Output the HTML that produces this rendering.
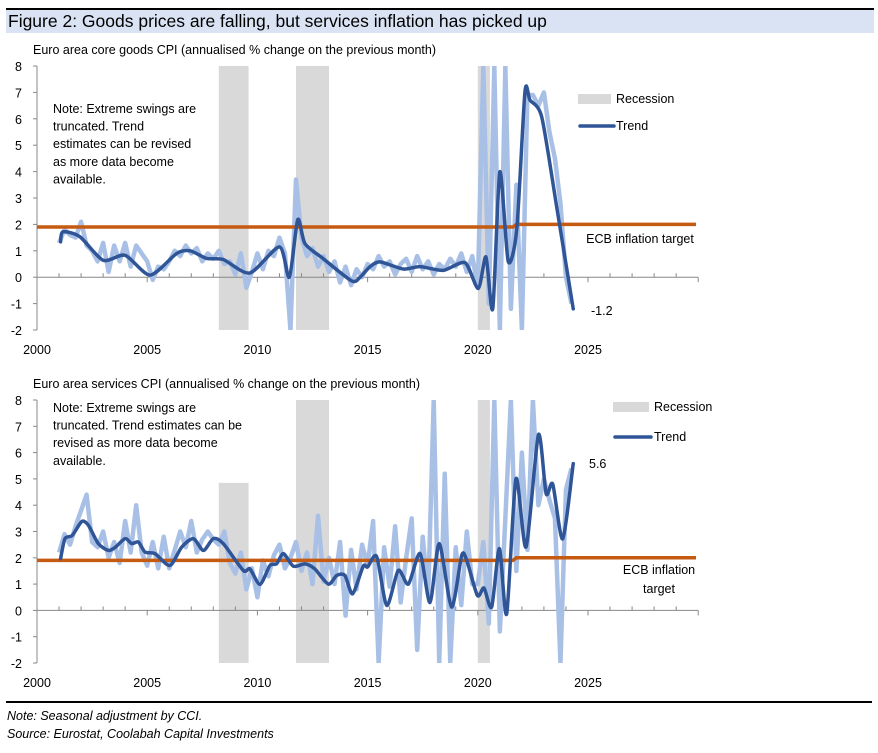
<!DOCTYPE html>
<html><head><meta charset="utf-8"><style>
body{margin:0;background:#fff;width:878px;height:748px;overflow:hidden;font-family:"Liberation Sans",sans-serif}
svg text{font-family:"Liberation Sans",sans-serif;fill:#000}
</style></head><body>
<svg id="svg" width="878" height="748" xmlns="http://www.w3.org/2000/svg">
<rect x="6" y="8" width="868" height="2" fill="#000"/>
<rect x="6" y="10" width="868" height="23" fill="#dae3f3"/>
<text x="8" y="27" font-size="17.5">Figure 2: Goods prices are falling, but services inflation has picked up</text>
<text x="33" y="54" font-size="12.5">Euro area core goods CPI (annualised % change on the previous month)</text>
<text x="33" y="388" font-size="12.5">Euro area services CPI (annualised % change on the previous month)</text>
<g id="c1"></g>
<g id="c2"></g>
<rect x="6" y="701" width="866" height="2" fill="#000"/>
<text x="7" y="720" font-size="12.5" font-style="italic">Note: Seasonal adjustment by CCI.</text>
<text x="7" y="738" font-size="12.5" font-style="italic">Source: Eurostat, Coolabah Capital Investments</text>
</svg>
<script>
const xTicks=[2000,2005,2010,2015,2020,2025];
const yTicks=[8,7,6,5,4,3,2,1,0,-1,-2];
const recStart=[2008.25,2011.75,2020.0];
const recEnd=[2009.6,2013.25,2020.55];
const rawStart=2001.0, rawStep=0.25;
const goodsRaw=[1.3,1.8,1.6,1.5, 2.1,1.2,1.0,0.6, 1.3,0.2,1.2,0.6, 1.3,0.4,1.2,0.9, 0.6,-0.1,0.4,0.3, 0.6,1.0,0.8,1.2, 0.9,1.1,0.6,0.9, 0.7,1.0,0.5,0.6, 0.1,0.9,-0.4,0.2, 0.9,0.3,1.0,0.8, 1.5,0.9,-2.0,3.7, 1.5,0.8,1.1,0.4, 0.8,0.2,0.6,-0.2, 0.4,-0.3,0.3,0.0, 0.5,0.3,0.8,0.4, 0.6,0.1,0.5,0.7, 0.2,0.8,0.3,0.6, 0.1,0.5,0.3,0.7, 0.4,0.9,0.2,0.8, -0.4,8.0,-1.0,8.0, -2.0,8.0,-1.2,3.5, -2.0,6.9,6.9,6.5, 7.0,5.5,4.5,2.8, 0.0,-1.0];
const goodsTrendX=[2001.07,2001.18,2001.95,2003.0,2004.0,2005.13,2006.34,2006.95,2007.7,2008.45,2009.66,2011.0,2011.45,2011.83,2012.16,2012.99,2014.28,2014.66,2015.1,2015.56,2016.62,2017.38,2018.44,2019.42,2020.02,2020.37,2020.68,2021.0,2021.38,2021.77,2022.14,2022.37,2022.9,2023.58,2024.33];
const goodsTrendY=[1.34,1.72,1.53,0.64,0.83,0.08,0.9,1.0,0.71,0.67,0.16,1.15,0.0,2.18,1.27,0.7,-0.14,0.0,0.39,0.58,0.31,0.4,0.26,0.55,-0.43,0.77,-1.19,3.99,0.6,1.84,7.02,6.7,6.07,2.66,-1.2];
const servRaw=[2.2,2.9,2.5,3.2, 3.8,4.4,2.6,2.4, 3.0,2.0,2.6,1.8, 3.4,2.2,4.0,2.2, 1.7,2.6,1.6,2.8, 1.6,2.3,3.0,2.4, 3.4,2.2,2.7,3.0, 2.7,2.5,3.0,1.8, 1.4,2.2,0.8,1.6, 0.5,1.9,1.3,2.1, 2.5,1.6,2.0,2.6, 1.5,2.2,1.0,3.6, 1.1,2.0,1.0,2.6, -0.2,2.3,0.8,2.5, 1.7,3.4,-2.0,2.4, 0.9,3.2,0.3,2.0, 3.5,-1.5,2.8,0.6, 8.0,-2.0,5.2,-2.0, 2.4,0.2,3.0,1.0, 1.0,2.6,-0.5,8.0, -0.8,3.5,8.0,1.5, 6.0,2.3,8.0,4.0, 5.0,4.2,3.5,-2.0, 4.6,5.4];
const servTrendX=[2001.07,2001.27,2001.6,2002.03,2002.33,2002.78,2003.24,2003.55,2004.0,2004.3,2004.6,2004.9,2005.35,2006.03,2006.56,2007.09,2007.55,2008.0,2008.45,2009.36,2009.66,2010.12,2010.57,2010.87,2011.18,2011.63,2012.16,2012.6,2013.22,2013.6,2013.97,2014.32,2014.8,2015.0,2015.41,2015.87,2016.39,2016.85,2017.38,2017.83,2018.25,2018.81,2019.27,2019.5,2019.98,2020.28,2020.63,2020.98,2021.31,2021.73,2022.19,2022.75,2023.1,2023.4,2023.85,2024.33];
const servTrendY=[1.97,2.73,2.85,3.38,3.24,2.54,2.28,2.4,2.73,2.54,2.6,2.22,2.16,1.71,2.4,2.73,2.28,2.73,2.54,1.52,1.58,0.99,1.71,1.77,2.16,1.68,1.77,1.58,1.0,1.33,1.33,0.63,1.68,1.65,2.05,0.19,1.52,1.0,2.16,0.3,2.54,0.13,2.09,1.9,0.57,0.85,0.13,2.35,-0.13,5.0,2.41,6.68,4.44,4.8,2.72,5.58];
const targetX=[2000.0,2021.6,2021.75,2029.9];
const targetY=[1.9,1.9,2.0,2.0];

const NS='http://www.w3.org/2000/svg';
function mk(p,t,a){const e=document.createElementNS(NS,t);for(const k in a)e.setAttribute(k,a[k]);p.appendChild(e);return e;}
function smooth(pts){const k=8;let d='M'+pts[0][0]+','+pts[0][1];for(let i=0;i<pts.length-1;i++){const p0=pts[i-1]||pts[i],p1=pts[i],p2=pts[i+1],p3=pts[i+2]||p2;d+=' C'+(p1[0]+(p2[0]-p0[0])/k)+','+(p1[1]+(p2[1]-p0[1])/k)+' '+(p2[0]-(p3[0]-p1[0])/k)+','+(p2[1]-(p3[1]-p1[1])/k)+' '+p2[0]+','+p2[1];}return d;}

function chart(g,top,bottom,raw,tx,ty,id){
  const X=v=>37+(v-2000)*22.04;
  const Y=v=>top+(8-Math.max(-2,Math.min(8,v)))*(bottom-top)/10;
  const clip=mk(g,'clipPath',{id:'cl'+id});mk(clip,'rect',{x:37,y:top,width:700,height:bottom-top});
  for(let i=0;i<recStart.length;i++){
    const r=mk(g,'rect',{x:X(recStart[i]),y:id===2&&i===0?Y(4.85):top,width:X(recEnd[i])-X(recStart[i]),height:bottom-(id===2&&i===0?Y(4.85):top),fill:'#d9d9d9'});
    
    
  }
  const ax=mk(g,'line',{x1:37,x2:37,y1:top,y2:bottom,stroke:'#888','stroke-width':1});
  
  
  const zl=mk(g,'line',{x1:37,x2:698,y1:Y(0),y2:Y(0),stroke:'#888','stroke-width':1});
  
  
  for(let yr=2000;yr<=2030;yr++){const t=mk(g,'line',{x1:X(yr),x2:X(yr),y1:Y(0),y2:Y(0)+(yr%5===0?5:-4),stroke:'#888'});}
  yTicks.forEach(v=>{mk(g,'line',{x1:33,x2:37,y1:Y(v),y2:Y(v),stroke:'#888'});
    const t=mk(g,'text',{x:22,y:Y(v)+5,'font-size':12.5,'text-anchor':'end'});t.textContent=v;
    
    });
  xTicks.forEach(v=>{const t=mk(g,'text',{x:X(v),y:bottom+24,'font-size':12.5,'text-anchor':'middle'});t.textContent=v;
    
    });
  const rp=raw.map((v,i)=>X(rawStart+i*rawStep)+','+Y(v)).join(' ');
  const rl=mk(g,'polyline',{points:rp,fill:'none',stroke:'#a9c0e6','stroke-width':4.5,'stroke-linejoin':'round','clip-path':'url(#cl'+id+')'});
  
  
  const tl=mk(g,'polyline',{points:targetX.map((v,i)=>X(Math.min(v,2030))+','+Y(targetY[i])).join(' '),fill:'none',stroke:'#c55a11','stroke-width':3.5});
  
  
  const tr=mk(g,'path',{d:smooth(tx.map((v,i)=>[X(v),Y(ty[i])])),fill:'none',stroke:'#2f5597','stroke-width':3.5,'stroke-linejoin':'round','stroke-linecap':'round'});
  
  
  return {X,Y};
}
const g1=document.getElementById('c1'),g2=document.getElementById('c2');
chart(g1,66,330,goodsRaw,goodsTrendX,goodsTrendY,1);
chart(g2,400,663,servRaw,servTrendX,servTrendY,2);
function txt(g,x,y,s,name,anchor){const t=mk(g,'text',{x:x,y:y,'font-size':12.5,'text-anchor':anchor||'start'});t.textContent=s;return t;}
['Note: Extreme swings are','truncated. Trend','estimates can be revised','as more data become','available.'].forEach((s,i)=>txt(g1,53,113+i*17.6,s,'note-text'));
['Note: Extreme swings are','truncated. Trend estimates can be','revised as more data become','available.'].forEach((s,i)=>txt(g2,53,412+i*17.6,s,'note-text'));
let r=mk(g1,'rect',{x:578,y:94,width:33,height:10,fill:'#d9d9d9'});
txt(g1,616,103,'Recession','legend-recession');
let l=mk(g1,'line',{x1:580,x2:614,y1:126,y2:126,stroke:'#2f5597','stroke-width':3.5,'stroke-linecap':'round'});
txt(g1,616,130,'Trend','legend-trend');
txt(g1,640,243,'ECB inflation target','ecb-target-label','middle');
txt(g1,591,315,'-1.2','latest-value-label');
r=mk(g2,'rect',{x:613,y:402,width:36,height:10,fill:'#d9d9d9'});
txt(g2,654,411,'Recession','legend-recession');
l=mk(g2,'line',{x1:615,x2:651,y1:437,y2:437,stroke:'#2f5597','stroke-width':3.5,'stroke-linecap':'round'});
txt(g2,654,441,'Trend','legend-trend');
txt(g2,589,468,'5.6','latest-value-label');
txt(g2,659,574,'ECB inflation','ecb-target-label','middle');
txt(g2,659,593,'target','ecb-target-label','middle');
</script>
</body></html>
